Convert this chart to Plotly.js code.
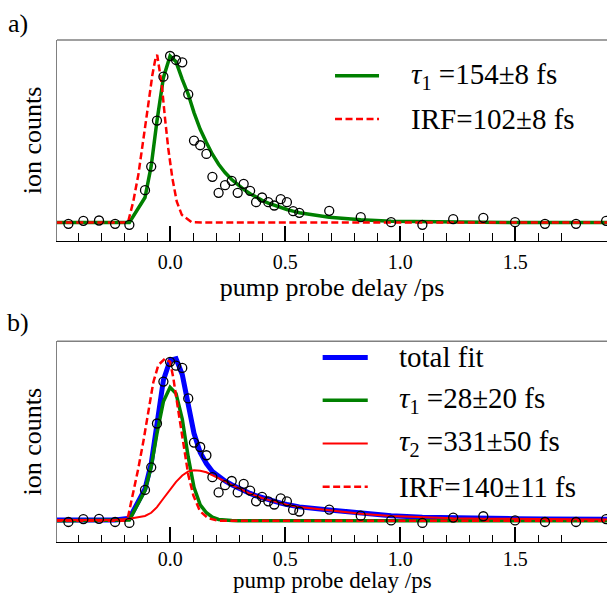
<!DOCTYPE html>
<html>
<head>
<meta charset="utf-8">
<script src="https://cdn.plot.ly/plotly-3.0.1.min.js"></script>
<style>
  html, body { margin: 0; padding: 0; background: #fff; }
  #chart { width: 607px; height: 593px; }
</style>
</head>
<body>
<div id="chart"></div>
<script>
// ---- data ----
// pump-probe delay of the measured points (ps)
const delay = [-0.443,-0.378,-0.310,-0.240,-0.178,-0.110,-0.083,-0.058,-0.030,-0.001,
  0.025,0.052,0.078,0.103,0.130,0.157,0.183,0.210,0.238,0.267,
  0.293,0.319,0.347,0.373,0.399,0.426,0.452,0.480,0.507,0.534,
  0.561,0.691,0.828,0.960,1.096,1.230,1.361,1.499,1.629,1.764,1.895];
// measured ion counts (normalised)
const counts = [-0.008,0.010,0.012,-0.008,-0.014,0.194,0.336,0.612,0.876,1.000,
  0.976,0.962,0.770,0.492,0.464,0.412,0.274,0.178,0.224,0.250,
  0.178,0.232,0.190,0.122,0.150,0.122,0.102,0.140,0.122,0.068,
  0.058,0.070,0.032,0.002,-0.014,0.020,0.028,0.002,-0.008,-0.008,0.010];

// fit grid (ps): edge, data delays, edge
const fitDelay = [-0.500,-0.443,-0.378,-0.310,-0.240,-0.178,-0.110,-0.083,-0.058,-0.030,-0.001,
  0.025,0.052,0.078,0.103,0.130,0.157,0.183,0.210,0.238,0.267,
  0.293,0.319,0.347,0.373,0.399,0.426,0.452,0.480,0.507,0.534,
  0.561,0.691,0.828,0.960,1.096,1.230,1.361,1.499,1.629,1.764,1.895,1.920];

// panel a) single exponential fit
const fitA_tau1 = [0,0,0,0,0,0,0.15,0.34,0.61,0.87,1.00,
  0.965,0.86,0.77,0.66,0.56,0.48,0.41,0.35,0.30,0.258,
  0.226,0.199,0.173,0.152,0.133,0.116,0.102,0.089,0.078,0.068,
  0.059,0.031,0.016,0.008,0.004,0.002,0.001,0,0,0,0,0];
const irfA_delay = [-0.500,-0.200,-0.183,-0.161,-0.139,-0.117,-0.096,-0.078,-0.063,-0.057,
  -0.037,-0.023,-0.009,0.009,0.028,0.050,0.093,0.150,1.920];
const irfA = [0,0,0.006,0.126,0.286,0.486,0.706,0.886,0.996,1.006,
  0.826,0.626,0.446,0.266,0.126,0.046,0.002,0,0];

// panel b) two-exponential fit
const fitB_total = [0.005,0.005,0.005,0.005,0.005,0.015,0.20,0.36,0.62,0.885,1.01,
  1.02,0.92,0.72,0.55,0.43,0.36,0.31,0.276,0.25,0.227,
  0.207,0.19,0.172,0.157,0.144,0.132,0.121,0.111,0.102,0.094,
  0.087,0.068,0.046,0.031,0.022,0.017,0.015,0.013,0.011,0.010,0.009,0.009];
const fitB_tau1 = [0,0,0,0,0,0.005,0.19,0.34,0.55,0.75,0.84,
  0.80,0.64,0.40,0.21,0.10,0.05,0.022,0.008,0.003,0.001,
  0,0,0,0,0,0,0,0,0,0,
  0,0,0,0,0,0,0,0,0,0,0,0];
const fitB_tau2 = [0.004,0.004,0.004,0.004,0.004,0.012,0.03,0.05,0.085,0.14,0.195,
  0.245,0.285,0.31,0.318,0.315,0.305,0.288,0.27,0.248,0.226,
  0.206,0.189,0.171,0.156,0.143,0.131,0.12,0.11,0.101,0.093,
  0.086,0.066,0.044,0.029,0.02,0.015,0.013,0.011,0.010,0.009,0.008,0.008];
const irfB_delay = [-0.500,-0.200,-0.183,-0.161,-0.139,-0.117,-0.096,-0.074,-0.052,-0.023,
  -0.001,0.013,0.035,0.057,0.078,0.100,0.129,0.165,0.210,1.920];
const irfB = [0,0,0.03,0.17,0.33,0.50,0.69,0.87,0.98,1.02,
  1.00,0.90,0.69,0.48,0.29,0.16,0.06,0.015,0,0];

// labels
const legendA = ['<i>τ</i><sub>1</sub> =154±8 fs', 'IRF=102±8 fs'];
const legendB = ['total fit', '<i>τ</i><sub>1</sub> =28±20 fs', '<i>τ</i><sub>2</sub> =331±50 fs', 'IRF=140±11 fs'];
const tickVals = [0, 0.5, 1.0, 1.5];
const tickText = ['0.0', '0.5', '1.0', '1.5'];
const minorVals = [-0.4,-0.3,-0.2,-0.1,0.1,0.2,0.3,0.4,0.6,0.7,0.8,0.9,1.1,1.2,1.3,1.4,1.6,1.7];
const xTitle = 'pump probe delay /ps';
const yTitle = 'ion counts';

// ---- styling ----
const FONT = '"Liberation Serif", "Times New Roman", serif';
const GREEN = '#008000', RED = '#ff0000', BLUE = '#0000ff';
const DASH = '7px,3.5px';

function pts(xa, ya) {
  return {x: delay, y: counts, xaxis: xa, yaxis: ya, type: 'scatter', mode: 'markers',
    marker: {symbol: 'circle-open', size: 9, color: '#000', line: {width: 1.3, color: '#000'}},
    showlegend: false, hoverinfo: 'x+y'};
}
function line(x, y, xa, ya, color, width, dash, name) {
  return {x: x, y: y, xaxis: xa, yaxis: ya, type: 'scatter', mode: 'lines', name: name,
    line: {color: color, width: width, dash: dash || 'solid'}, showlegend: false};
}

const traces = [
  line(fitDelay, fitA_tau1, 'x', 'y', GREEN, 3.5, null, 'τ1'),
  line(irfA_delay, irfA, 'x', 'y', RED, 2.5, DASH, 'IRF'),
  pts('x', 'y'),
  line(fitDelay, fitB_total, 'x2', 'y2', BLUE, 5, null, 'total fit'),
  line(fitDelay, fitB_tau1, 'x2', 'y2', GREEN, 3.5, null, 'τ1'),
  line(fitDelay, fitB_tau2, 'x2', 'y2', RED, 2, null, 'τ2'),
  line(irfB_delay, irfB, 'x2', 'y2', RED, 2.5, DASH, 'IRF'),
  pts('x2', 'y2')
];

function xaxisCfg(anchor, withTitle, standoff) {
  return {
    anchor: anchor, domain: [0, 1], range: [-0.4926, 1.8987],
    showline: true, linecolor: '#000', linewidth: 1.3,
    ticks: 'inside', ticklen: 15, tickwidth: 2, tickcolor: '#000',
    tickmode: 'array', tickvals: tickVals, ticktext: tickText,
    tickfont: {family: FONT, size: 20, color: '#000'}, ticklabelstandoff: standoff,
    minor: {tickmode: 'array', tickvals: minorVals, ticks: 'inside', ticklen: 7.5, tickwidth: 1, tickcolor: '#000', showgrid: false},
    showgrid: false, zeroline: false,
    title: withTitle ? {text: xTitle, font: {family: FONT, size: 26, color: '#000'}, standoff: 0} : {text: ''}
  };
}
function yaxisCfg(anchor, domain, range) {
  return {
    anchor: anchor, domain: domain, range: range,
    showline: true, linecolor: '#808080', linewidth: 1.5,
    ticks: '', showticklabels: false, showgrid: false, zeroline: false,
    title: {text: yTitle, font: {family: FONT, size: 26, color: '#000'}, standoff: 6}
  };
}

const annotations = [];
const shapes = [];
function legendRow(xref, yref, yy, x0, x1, xt, color, width, dash, text) {
  shapes.push({type: 'line', xref: xref + ' domain', yref: yref + ' domain', x0: x0, x1: x1, y0: yy, y1: yy,
    line: {color: color, width: width, dash: dash || 'solid'}});
  annotations.push({xref: xref + ' domain', yref: yref + ' domain', x: xt, y: yy, xanchor: 'left', yanchor: 'middle',
    text: text, showarrow: false, font: {family: FONT, size: 29, color: '#000'}});
}
// panel frames (top edge, grey)
shapes.push({type: 'line', xref: 'x domain', yref: 'y domain', x0: 0, x1: 1, y0: 1, y1: 1, line: {color: '#808080', width: 1.5}});
shapes.push({type: 'line', xref: 'x2 domain', yref: 'y2 domain', x0: 0, x1: 1, y0: 1, y1: 1, line: {color: '#808080', width: 1.5}});

legendRow('x', 'y', 0.822, 0.5055, 0.5855, 0.64, GREEN, 3.5, null, legendA[0]);
legendRow('x', 'y', 0.607, 0.5055, 0.5855, 0.64, RED, 2.5, DASH, legendA[1]);
legendRow('x2', 'y2', 0.919, 0.483, 0.565, 0.6176, BLUE, 5, null, legendB[0]);
legendRow('x2', 'y2', 0.706, 0.483, 0.565, 0.6176, GREEN, 3.5, null, legendB[1]);
legendRow('x2', 'y2', 0.491, 0.483, 0.565, 0.6176, RED, 2, null, legendB[2]);
legendRow('x2', 'y2', 0.275, 0.483, 0.565, 0.6176, RED, 2.5, DASH, legendB[3]);

annotations.push({xref: 'paper', yref: 'paper', x: -0.0709, y: 1.0319, xanchor: 'center', yanchor: 'middle',
  text: 'a)', showarrow: false, font: {family: FONT, size: 26, color: '#000'}});
annotations.push({xref: 'paper', yref: 'paper', x: -0.0709, y: 0.438, xanchor: 'center', yanchor: 'middle',
  text: 'b)', showarrow: false, font: {family: FONT, size: 26, color: '#000'}});
// x-axis title of panel b) (fits in the narrow bottom margin)
annotations.push({xref: 'x2 domain', yref: 'paper', x: 0.5, y: 0, yshift: -38, xanchor: 'center', yanchor: 'middle',
  text: xTitle, showarrow: false, font: {family: FONT, size: 23, color: '#000'}});

const layout = {
  width: 607, height: 593,
  margin: {l: 57, r: 0, t: 40, b: 51},
  paper_bgcolor: '#fff', plot_bgcolor: '#fff',
  showlegend: false,
  font: {family: FONT, color: '#000'},
  xaxis: xaxisCfg('y', true, 3),
  yaxis: yaxisCfg('x', [0.6, 1], [-0.110, 1.096]),
  xaxis2: xaxisCfg('y2', false, -1),
  yaxis2: yaxisCfg('x2', [0, 0.4], [-0.134, 1.130]),
  shapes: shapes,
  annotations: annotations
};

Plotly.newPlot('chart', traces, layout, {displayModeBar: false, staticPlot: true});
</script>
</body>
</html>
